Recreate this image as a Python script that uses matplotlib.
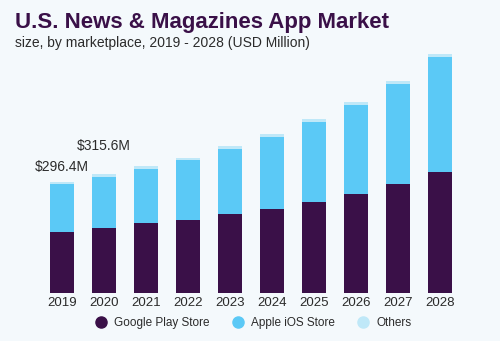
import matplotlib.pyplot as plt
import numpy as np
from matplotlib.lines import Line2D

# Market size by marketplace, USD million
years = ["2019", "2020", "2021", "2022", "2023", "2024", "2025", "2026", "2027", "2028"]
google_play = [162.0, 172.5, 187.3, 194.4, 211.1, 224.4, 242.2, 264.2, 289.0, 321.0]
apple_ios = [127.5, 135.0, 141.6, 158.4, 172.4, 191.0, 212.2, 236.0, 266.8, 305.0]
others = [6.9, 8.1, 8.0, 7.0, 8.0, 7.2, 8.0, 8.0, 7.2, 8.0]
callouts = {"2019": "$296.4M", "2020": "$315.6M"}
legend_labels = ["Google Play Store", "Apple iOS Store", "Others"]

BG = "#f4f9fc"
C_GOOGLE = "#3a1048"
C_APPLE = "#5bc9f6"
C_OTHERS = "#bfe8f8"
TXT = "#2b2b2b"


def main():
    plt.rcParams["font.family"] = ["Liberation Sans", "DejaVu Sans"]
    fig = plt.figure(figsize=(5, 3.41), dpi=100, facecolor=BG)
    ax = fig.add_axes([0.082, 0.1399, 0.84, 0.7185], facecolor=BG)

    x = np.arange(len(years))
    g = np.array(google_play)
    a = np.array(apple_ios)
    o = np.array(others)
    w = 0.571
    ax.bar(x, g, width=w, color=C_GOOGLE)
    ax.bar(x, a, width=w, bottom=g, color=C_APPLE)
    ax.bar(x, o, width=w, bottom=g + a, color=C_OTHERS)

    # value callouts above the first two bars
    totals = g + a + o
    offsets = {"2019": 15, "2020": 28}
    for i, yr in enumerate(years):
        if yr in callouts:
            ax.annotate(callouts[yr], (x[i], totals[i]), xytext=(0, offsets[yr]),
                        textcoords="offset pixels", ha="center", va="center",
                        fontsize=10, color=TXT)

    ax.set_xlim(-0.5, len(years) - 0.5)
    ax.set_ylim(0, 650)
    ax.set_xticks(x)
    ax.set_xticklabels(years, fontsize=9.5, color=TXT)
    ax.tick_params(axis="x", length=0, pad=3)
    ax.set_yticks([])
    for s in ax.spines.values():
        s.set_visible(False)

    fig.text(0.03, 0.935, "U.S. News & Magazines App Market", fontsize=16,
             fontweight="bold", color=C_GOOGLE, va="center")
    fig.text(0.03, 0.875, "size, by marketplace, 2019 - 2028 (USD Million)",
             fontsize=10, color=TXT, va="center")

    handles = [Line2D([0], [0], marker="o", ls="", ms=8, mfc=c, mec=c)
               for c in [C_GOOGLE, C_APPLE, C_OTHERS]]
    fig.legend(handles, legend_labels, loc="center",
               bbox_to_anchor=(0.508, 0.053), ncol=3, frameon=False,
               fontsize=8.5, handlelength=0.8, columnspacing=2.0,
               handletextpad=0.7, labelcolor=TXT)

    fig.savefig("out.png", dpi=100, facecolor=BG)


if __name__ == "__main__":
    main()
